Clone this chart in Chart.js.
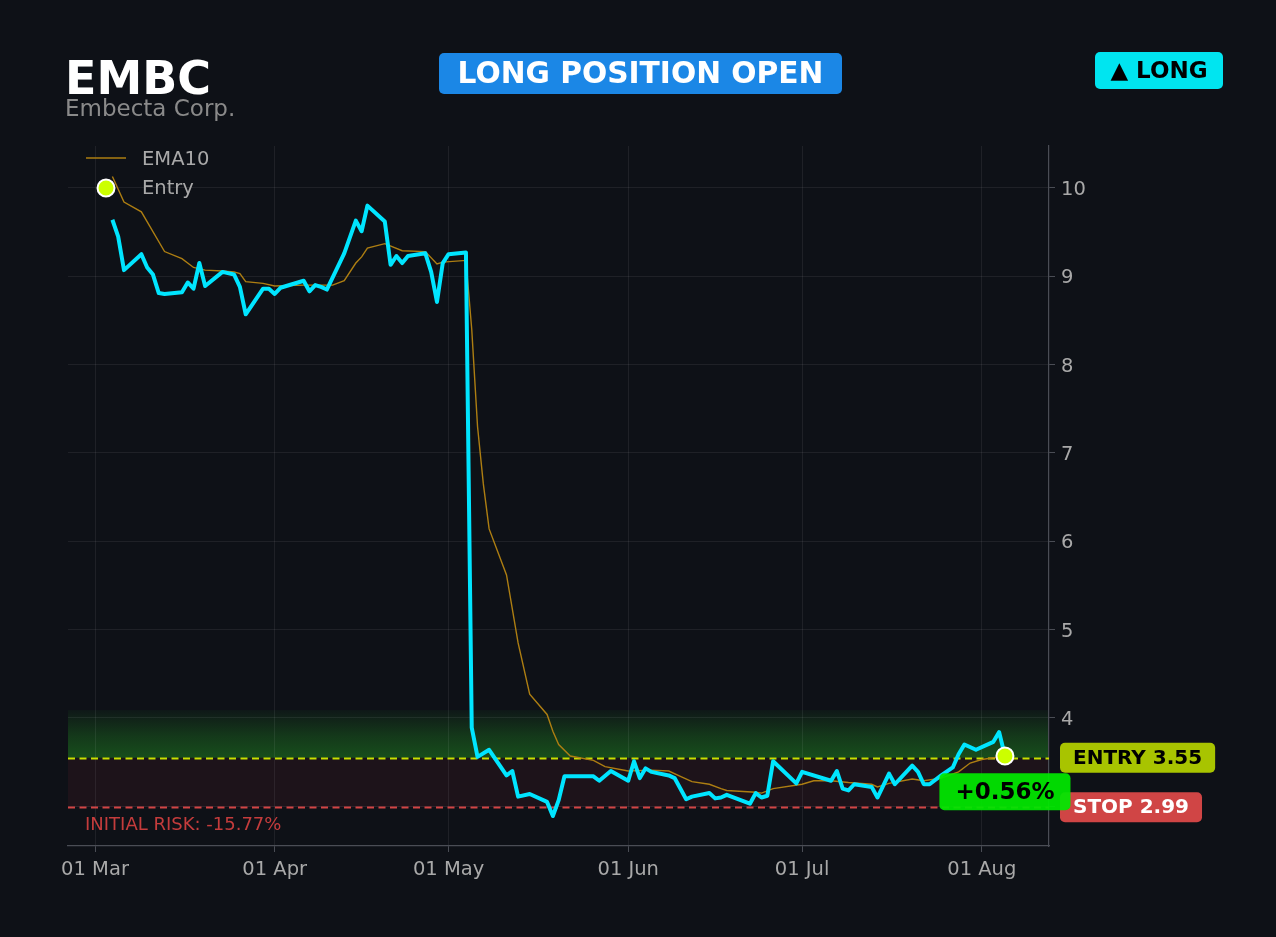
<!DOCTYPE html>
<html>
<head>
<meta charset="utf-8">
<title>EMBC</title>
<script src="https://cdn.jsdelivr.net/npm/chart.js@4.4.1/dist/chart.umd.min.js"></script>
<style>
  html, body { margin: 0; padding: 0; background: #0e1117; }
  canvas { display: block; }
</style>
</head>
<body>
<canvas id="chart" width="1276" height="937"></canvas>
<script>
// x values are days counted from 01 Mar
const tickDays = [0, 31, 61, 92, 122, 153];
const tickLabels = ['01 Mar', '01 Apr', '01 May', '01 Jun', '01 Jul', '01 Aug'];
const yTicks = [3, 4, 5, 6, 7, 8, 9, 10];

const priceDays = [3, 4, 5, 8, 9, 10, 11, 12, 15, 16, 17, 18, 19, 22, 24, 25, 26, 29, 30, 31,
  32, 36, 37, 38, 39, 40, 43, 45, 46, 47, 50, 51, 52, 53, 54, 57, 58, 59, 60, 61,
  64, 65, 66, 68, 71, 72, 73, 75, 78, 79, 80, 81, 86, 87, 89, 92, 93, 94, 95, 96,
  99, 100, 102, 103, 106, 107, 108, 109, 113, 114, 115, 116, 117, 121, 122, 127, 128, 129, 130, 131,
  134, 135, 137, 138, 141, 142, 143, 144, 146, 148, 149, 150, 152, 155, 156, 157];
const priceValues = [9.64, 9.45, 9.07, 9.25, 9.10, 9.02, 8.81, 8.80, 8.82, 8.93, 8.86, 9.15, 8.89, 9.05, 9.02, 8.88, 8.57, 8.86, 8.86, 8.80,
  8.87, 8.95, 8.83, 8.90, 8.88, 8.85, 9.26, 9.63, 9.51, 9.80, 9.62, 9.13, 9.23, 9.15, 9.23, 9.26, 9.05, 8.71, 9.15, 9.25,
  9.27, 3.89, 3.56, 3.64, 3.35, 3.40, 3.11, 3.14, 3.05, 2.89, 3.07, 3.34, 3.34, 3.29, 3.40, 3.29, 3.51, 3.32, 3.43, 3.39,
  3.35, 3.32, 3.08, 3.11, 3.15, 3.09, 3.10, 3.13, 3.03, 3.15, 3.10, 3.12, 3.51, 3.26, 3.39, 3.29, 3.40, 3.20, 3.18, 3.25,
  3.22, 3.10, 3.37, 3.25, 3.46, 3.39, 3.25, 3.25, 3.35, 3.44, 3.59, 3.70, 3.64, 3.73, 3.84, 3.57];

const emaDays = [3, 5, 8, 12, 15, 17, 19, 22, 24, 25, 26, 29, 31, 36, 41, 43, 45, 46, 47, 50,
  53, 57, 59, 60, 64, 65, 66, 67, 68, 71, 73, 75, 78, 79, 80, 82, 86, 88, 92, 96,
  99, 101, 103, 106, 108, 109, 114, 115, 117, 122, 124, 127, 130, 134, 135, 137, 141, 143, 146, 149,
  151, 153, 155, 157];
const emaValues = [10.13, 9.84, 9.73, 9.28, 9.20, 9.10, 9.07, 9.06, 9.05, 9.03, 8.94, 8.92, 8.89, 8.90, 8.90, 8.95, 9.15, 9.22, 9.32, 9.37,
  9.29, 9.28, 9.14, 9.16, 9.18, 8.40, 7.30, 6.65, 6.14, 5.62, 4.85, 4.27, 4.04, 3.85, 3.70, 3.57, 3.52, 3.45, 3.40, 3.41,
  3.40, 3.34, 3.28, 3.25, 3.20, 3.18, 3.16, 3.15, 3.20, 3.25, 3.29, 3.29, 3.27, 3.25, 3.22, 3.26, 3.31, 3.29, 3.32, 3.39,
  3.49, 3.53, 3.55, 3.56];

const entryPrice = 3.55;
const stopPrice = 2.99;
const greenTop = 4.09;
const entryDay = priceDays[priceDays.length - 1];
const lastPrice = priceValues[priceValues.length - 1];

const BG = '#0e1117';
const CYAN = '#00e5ff';
const EMA_COLOR = '#ad7e12';
const ENTRY_COLOR = '#c8e000';
const STOP_COLOR = '#d24444';
const TEXT_GRAY = '#a9a9a9';
const SPINE = '#4a4d55';
const GRID = 'rgba(255,255,255,0.07)';
const FONT = '"DejaVu Sans", sans-serif';

function pct(v) {
  return (v >= 0 ? '+' : '') + v.toFixed(2) + '%';
}

function badge(ctx, text, x, cy, opts) {
  ctx.font = opts.font;
  const w = ctx.measureText(text).width + opts.padX * 2;
  const left = opts.align === 'center' ? x - w / 2 : x;
  ctx.fillStyle = opts.bg;
  ctx.beginPath();
  ctx.roundRect(left, cy - opts.h / 2, w, opts.h, 5);
  ctx.fill();
  ctx.fillStyle = opts.fg;
  ctx.textAlign = 'center';
  ctx.textBaseline = 'middle';
  ctx.fillText(text, left + w / 2, cy + 1);
}

const overlay = {
  id: 'overlay',
  beforeDraw(chart) {
    const { ctx, chartArea: a, scales: { y } } = chart;
    ctx.save();
    ctx.fillStyle = BG;
    ctx.fillRect(0, 0, chart.width, chart.height);
    ctx.beginPath();
    ctx.rect(a.left, a.top, a.width, a.height);
    ctx.clip();
    const yE = y.getPixelForValue(entryPrice);
    const yS = y.getPixelForValue(stopPrice);
    const yG = y.getPixelForValue(greenTop);
    // risk zone
    ctx.fillStyle = 'rgba(220,50,60,0.08)';
    ctx.fillRect(a.left, yE, a.width, yS - yE);
    // green zone above entry
    const g = ctx.createLinearGradient(0, yE, 0, yG);
    g.addColorStop(0, 'rgba(34,150,34,0.46)');
    g.addColorStop(0.45, 'rgba(34,150,34,0.30)');
    g.addColorStop(1, 'rgba(34,150,34,0.05)');
    ctx.fillStyle = g;
    ctx.fillRect(a.left, yG, a.width, yE - yG);
    ctx.restore();
  },
  beforeDatasetsDraw(chart) {
    const { ctx, chartArea: a, scales: { y } } = chart;
    ctx.save();
    ctx.lineWidth = 2.2;
    ctx.setLineDash([7, 4.5]);
    [[entryPrice, ENTRY_COLOR], [stopPrice, STOP_COLOR]].forEach(([v, c]) => {
      const py = Math.round(y.getPixelForValue(v)) + 0.5;
      ctx.strokeStyle = c;
      ctx.beginPath();
      ctx.moveTo(a.left, py);
      ctx.lineTo(a.right, py);
      ctx.stroke();
    });
    ctx.restore();
  },
  afterDraw(chart) {
    const { ctx, chartArea: a, scales: { x, y } } = chart;
    ctx.save();

    // header
    ctx.textAlign = 'left';
    ctx.textBaseline = 'alphabetic';
    ctx.fillStyle = '#ffffff';
    ctx.font = 'bold 46px ' + FONT;
    ctx.fillText('EMBC', 65, 94);
    ctx.fillStyle = '#8a8a8a';
    ctx.font = '23px ' + FONT;
    ctx.fillText('Embecta Corp.', 65, 116);

    ctx.fillStyle = '#1b87e6';
    ctx.beginPath();
    ctx.roundRect(439, 53, 403, 41, 5);
    ctx.fill();
    ctx.fillStyle = '#ffffff';
    ctx.font = 'bold 29.7px ' + FONT;
    ctx.textAlign = 'center';
    ctx.textBaseline = 'middle';
    ctx.fillText('LONG POSITION OPEN', 640.5, 75.5);

    ctx.fillStyle = '#00e5f0';
    ctx.beginPath();
    ctx.roundRect(1095, 52, 128, 37, 5);
    ctx.fill();
    ctx.fillStyle = '#000000';
    ctx.font = 'bold 23px ' + FONT;
    ctx.fillText('\u25B2 LONG', 1159, 72.5);

    // legend
    ctx.strokeStyle = EMA_COLOR;
    ctx.lineWidth = 1.5;
    ctx.beginPath();
    ctx.moveTo(a.left + 18, a.top + 12);
    ctx.lineTo(a.left + 58, a.top + 12);
    ctx.stroke();
    ctx.fillStyle = '#ccff00';
    ctx.strokeStyle = '#ffffff';
    ctx.lineWidth = 2;
    ctx.beginPath();
    ctx.arc(a.left + 38, a.top + 42, 8.5, 0, Math.PI * 2);
    ctx.fill();
    ctx.stroke();
    ctx.fillStyle = TEXT_GRAY;
    ctx.font = '19.5px ' + FONT;
    ctx.textAlign = 'left';
    ctx.textBaseline = 'middle';
    ctx.fillText('EMA10', a.left + 74, a.top + 14);
    ctx.fillText('Entry', a.left + 74, a.top + 43);

    // risk text
    const yE = y.getPixelForValue(entryPrice);
    const yS = y.getPixelForValue(stopPrice);
    ctx.fillStyle = '#c43c3c';
    ctx.font = '18px ' + FONT;
    ctx.fillText('INITIAL RISK: ' + pct((stopPrice - entryPrice) / entryPrice * 100), a.left + 17, yS + 18);

    // right side labels
    badge(ctx, 'ENTRY ' + entryPrice.toFixed(2), a.right + 11, yE, {
      font: 'bold 20px ' + FONT, bg: '#a8c400', fg: '#000000', padX: 13, h: 30, align: 'left'
    });
    badge(ctx, 'STOP ' + stopPrice.toFixed(2), a.right + 11, yS, {
      font: 'bold 20px ' + FONT, bg: '#d04545', fg: '#ffffff', padX: 13, h: 30, align: 'left'
    });
    badge(ctx, pct((lastPrice - entryPrice) / entryPrice * 100), x.getPixelForValue(entryDay), yE + 34, {
      font: 'bold 23px ' + FONT, bg: 'rgba(0,232,0,0.93)', fg: '#000000', padX: 16, h: 37, align: 'center'
    });

    ctx.restore();
  }
};

new Chart(document.getElementById('chart'), {
  type: 'line',
  data: {
    datasets: [
      {
        label: 'Entry',
        type: 'scatter',
        data: [{ x: entryDay, y: lastPrice }],
        pointRadius: 8.5,
        pointBackgroundColor: '#ccff00',
        pointBorderColor: '#ffffff',
        pointBorderWidth: 2,
        order: 0
      },
      {
        label: 'Price',
        data: priceDays.map((d, i) => ({ x: d, y: priceValues[i] })),
        borderColor: CYAN,
        borderWidth: 4,
        pointRadius: 0,
        tension: 0,
        borderJoinStyle: 'round',
        order: 1
      },
      {
        label: 'EMA10',
        data: emaDays.map((d, i) => ({ x: d, y: emaValues[i] })),
        borderColor: EMA_COLOR,
        borderWidth: 1.4,
        pointRadius: 0,
        tension: 0,
        order: 2
      }
    ]
  },
  options: {
    responsive: false,
    animation: false,
    events: [],
    layout: { padding: { left: 68, top: 146, right: 0, bottom: 0 } },
    plugins: { legend: { display: false }, tooltip: { enabled: false } },
    scales: {
      x: {
        type: 'linear',
        min: -4.66,
        max: 164.6,
        afterBuildTicks: s => { s.ticks = tickDays.map(v => ({ value: v })); },
        afterFit: s => { s.height = 91; },
        ticks: {
          color: TEXT_GRAY,
          font: { family: FONT, size: 19.5 },
          padding: 6,
          maxRotation: 0,
          autoSkip: false,
          callback: v => tickLabels[tickDays.indexOf(v)]
        },
        grid: { color: GRID, tickColor: SPINE, tickLength: 6 },
        border: { color: SPINE, width: 1.2 }
      },
      y: {
        position: 'right',
        min: 2.551,
        max: 10.475,
        afterBuildTicks: s => { s.ticks = yTicks.map(v => ({ value: v })); },
        afterFit: s => { s.width = 227; },
        ticks: {
          color: TEXT_GRAY,
          font: { family: FONT, size: 19.5 },
          padding: 6,
          labelOffset: 2,
          callback: v => String(v)
        },
        grid: { color: GRID, tickColor: SPINE, tickLength: 6 },
        border: { color: SPINE, width: 1.2 }
      }
    }
  },
  plugins: [overlay]
});
</script>
</body>
</html>
